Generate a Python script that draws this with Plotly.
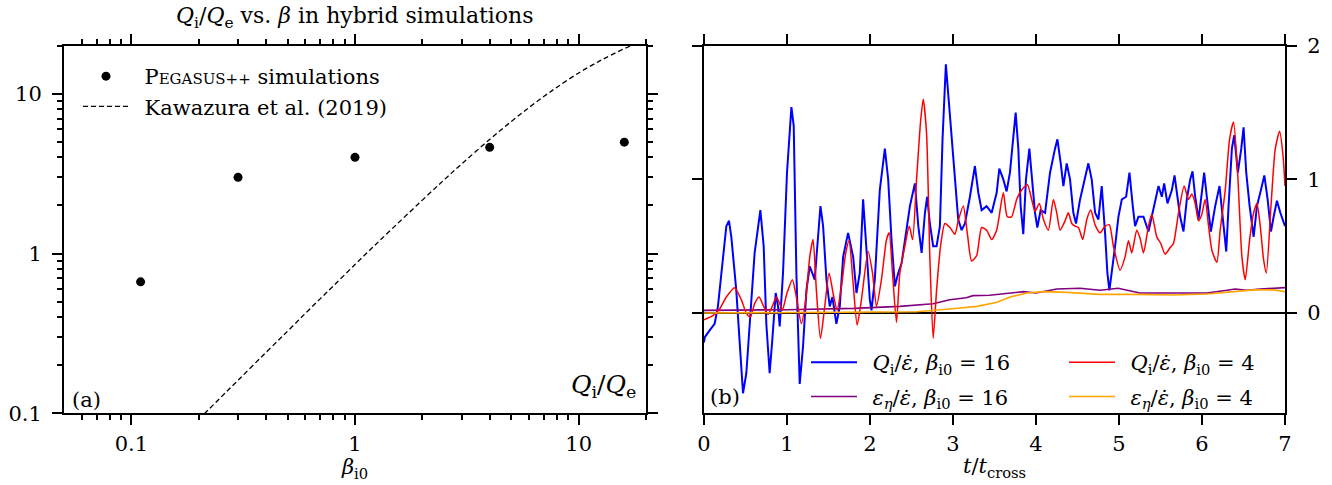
import math
import plotly.graph_objects as go

FONT = "DejaVu Serif"
FS = 21

# ---------------- panel (a) data ----------------
beta_sim = [0.11, 0.3, 1.0, 4.0, 16.0]
qratio_sim = [0.665, 3.0, 4.0, 4.62, 4.98]

beta_kaw = [0.2, 0.21, 0.25, 0.3, 0.4, 0.5, 0.6, 0.7, 0.8, 1.0, 1.2, 1.5, 2.0, 2.5,
            3.0, 4.0, 5.0, 6.0, 7.0, 8.0, 10.0, 12.0, 13.0, 15.0, 17.3, 20.0]
qratio_kaw = [0.0915, 0.098, 0.125, 0.161, 0.2405, 0.327, 0.422, 0.522, 0.627, 0.853,
              1.094, 1.475, 2.16, 2.89, 3.64, 5.18, 6.71, 8.21, 9.64, 11.0, 13.5,
              15.65, 16.6, 18.37, 20.1, 21.8]

xticks_a = [0.1, 1, 10]
xticktext_a = ["0.1", "1", "10"]
yticks_a = [0.1, 1, 10]
yticktext_a = ["0.1", "1", "10"]
xminor_a = [0.06, 0.07, 0.08, 0.09, 0.2, 0.3, 0.4, 0.5, 0.6, 0.7, 0.8, 0.9,
            2, 3, 4, 5, 6, 7, 8, 9, 20]
yminor_a = [0.2, 0.3, 0.4, 0.5, 0.6, 0.7, 0.8, 0.9, 2, 3, 4, 5, 6, 7, 8, 9, 20]

# ---------------- panel (b) data ----------------
t_blue = [0.0, 0.01, 0.068, 0.128, 0.168, 0.208, 0.269, 0.301, 0.329, 0.389, 0.429,
          0.470, 0.510, 0.550, 0.610, 0.679, 0.719, 0.751, 0.791, 0.823, 0.864,
          0.892, 0.912, 0.952, 1.000, 1.053, 1.081, 1.113, 1.153, 1.193, 1.234,
          1.274, 1.334, 1.403, 1.435, 1.475, 1.515, 1.547, 1.595, 1.636, 1.676,
          1.736, 1.797, 1.837, 1.877, 1.917, 1.957, 1.998, 2.018, 2.058, 2.118,
          2.179, 2.219, 2.259, 2.300, 2.340, 2.380, 2.420, 2.481, 2.541, 2.582,
          2.622, 2.662, 2.689, 2.721, 2.761, 2.802, 2.842, 2.874, 2.914, 2.955,
          2.995, 3.035, 3.063, 3.104, 3.144, 3.204, 3.264, 3.305, 3.345, 3.405,
          3.466, 3.526, 3.558, 3.606, 3.646, 3.686, 3.726, 3.755, 3.787, 3.815,
          3.847, 3.879, 3.920, 3.956, 3.988, 4.016, 4.056, 4.109, 4.169, 4.229,
          4.258, 4.298, 4.330, 4.370, 4.410, 4.450, 4.482, 4.531, 4.591, 4.631,
          4.671, 4.712, 4.752, 4.792, 4.832, 4.860, 4.884, 4.913, 4.953, 4.993,
          5.034, 5.086, 5.126, 5.166, 5.194, 5.234, 5.295, 5.355, 5.415, 5.476,
          5.516, 5.544, 5.584, 5.637, 5.669, 5.705, 5.737, 5.777, 5.817, 5.858,
          5.886, 5.918, 5.958, 5.998, 6.026, 6.058, 6.107, 6.159, 6.211, 6.252,
          6.292, 6.320, 6.360, 6.388, 6.432, 6.473, 6.501, 6.533, 6.574, 6.622,
          6.662, 6.710, 6.751, 6.791, 6.831, 6.863, 6.903, 6.944, 7.000]
q_blue = [-0.22, -0.18, -0.13, -0.08, 0.05, 0.30, 0.65, 0.69, 0.57, 0.17, -0.20,
          -0.60, -0.45, -0.08, 0.45, 0.77, 0.50, -0.08, -0.45, -0.20, 0.15,
          0.05, -0.10, 0.30, 1.05, 1.54, 1.40, 0.30, -0.53, -0.25, 0.17,
          0.35, 0.25, 0.80, 0.65, 0.25, 0.05, 0.12, -0.08, 0.05, 0.42,
          0.60, 0.42, 0.15, 0.30, 0.85, 0.50, 0.10, 0.02, 0.25, 0.92,
          1.23, 1.00, 0.55, 0.20, 0.30, 0.37, 0.55, 0.80, 0.97, 0.65,
          0.45, 0.75, 0.87, 0.67, 0.50, 0.50, 0.65, 1.30, 1.86, 1.55,
          1.23, 0.97, 0.70, 0.62, 0.67, 0.87, 1.10, 0.90, 0.77, 0.80,
          0.75, 0.90, 1.08, 1.00, 0.91, 1.05, 1.35, 1.50, 1.23, 0.80,
          0.59, 1.00, 1.23, 1.00, 0.75, 0.64, 0.77, 0.75, 1.05, 1.23,
          1.30, 1.12, 0.95, 1.12, 1.00, 0.75, 0.67, 0.85, 1.00, 1.12,
          1.00, 0.75, 0.70, 0.95, 0.60, 0.30, 0.17, 0.30, 0.50, 0.72,
          0.85, 0.87, 1.05, 0.80, 0.65, 0.72, 0.72, 0.61, 0.77, 0.95,
          0.87, 0.97, 0.82, 0.92, 1.03, 0.87, 0.72, 0.61, 0.85, 1.00,
          1.06, 0.87, 0.70, 0.90, 1.05, 0.87, 0.61, 0.80, 0.95, 0.70,
          0.46, 0.80, 1.23, 1.33, 1.05, 1.23, 1.39, 1.05, 0.80, 0.57,
          0.80, 0.92, 1.03, 0.85, 0.61, 0.72, 0.84, 0.75, 0.65]

t_red = [0.0, 0.108, 0.188, 0.269, 0.369, 0.449, 0.510, 0.558, 0.610, 0.663, 0.719,
         0.771, 0.823, 0.872, 0.912, 0.944, 1.000, 1.065, 1.113, 1.173, 1.226,
         1.274, 1.314, 1.354, 1.403, 1.455, 1.507, 1.555, 1.603, 1.656, 1.708,
         1.748, 1.797, 1.845, 1.897, 1.977, 2.030, 2.078, 2.138, 2.199, 2.231,
         2.271, 2.319, 2.360, 2.420, 2.473, 2.513, 2.561, 2.609, 2.641, 2.681,
         2.721, 2.761, 2.802, 2.850, 2.902, 2.963, 3.023, 3.063, 3.124, 3.172,
         3.224, 3.285, 3.345, 3.405, 3.466, 3.526, 3.606, 3.654, 3.706, 3.767,
         3.827, 3.896, 3.948, 3.988, 4.040, 4.090, 4.149, 4.209, 4.250, 4.290,
         4.350, 4.390, 4.431, 4.471, 4.511, 4.563, 4.612, 4.660, 4.712, 4.772,
         4.832, 4.884, 4.933, 5.013, 5.073, 5.114, 5.154, 5.214, 5.254, 5.295,
         5.355, 5.395, 5.455, 5.503, 5.556, 5.616, 5.656, 5.717, 5.785, 5.837,
         5.877, 5.918, 5.958, 5.998, 6.038, 6.079, 6.119, 6.179, 6.219, 6.280,
         6.332, 6.380, 6.429, 6.481, 6.521, 6.574, 6.622, 6.662, 6.702, 6.742,
         6.775, 6.831, 6.883, 6.935, 6.976, 7.000]
q_red = [-0.05, -0.02, 0.03, 0.12, 0.19, 0.10, 0.00, -0.03, 0.07, 0.12, 0.05,
         -0.01, 0.05, 0.12, 0.07, 0.02, 0.15, 0.25, 0.12, -0.08, 0.10,
         0.42, 0.55, 0.17, -0.19, 0.05, 0.30, 0.15, 0.02, 0.20, 0.45,
         0.54, 0.22, -0.09, 0.10, 0.46, 0.30, 0.05, 0.25, 0.55, 0.60,
         0.30, -0.07, 0.30, 0.50, 0.65, 0.55, 1.00, 1.43, 1.60, 1.35,
         0.42, -0.19, 0.17, 0.50, 0.67, 0.64, 0.59, 0.69, 0.80, 0.60,
         0.39, 0.43, 0.64, 0.62, 0.55, 0.62, 0.90, 0.72, 0.72, 0.85,
         0.92, 0.96, 0.85, 0.76, 0.82, 0.70, 0.62, 0.85, 0.75, 0.62,
         0.69, 0.75, 0.67, 0.65, 0.64, 0.55, 0.70, 0.77, 0.66, 0.60,
         0.65, 0.66, 0.50, 0.32, 0.42, 0.54, 0.45, 0.62, 0.56, 0.45,
         0.65, 0.74, 0.57, 0.52, 0.44, 0.49, 0.52, 0.75, 0.95, 0.85,
         0.89, 0.82, 0.69, 0.74, 0.85, 0.65, 0.47, 0.38, 0.62, 0.92,
         1.30, 1.43, 1.05, 0.42, 0.25, 0.55, 0.75, 0.82, 0.65, 0.40,
         0.30, 0.80, 1.23, 1.36, 1.18, 0.95]

t_purple = [0.0, 1.0, 1.8, 2.36, 2.76, 2.96, 3.16, 3.24, 3.44, 3.69, 3.85, 4.0,
            4.25, 4.53, 4.77, 4.99, 5.25, 5.5, 6.06, 6.3, 6.4, 6.54, 6.7, 7.0]
eps_purple = [0.02, 0.025, 0.035, 0.05, 0.07, 0.10, 0.115, 0.13, 0.133, 0.15, 0.16,
              0.15, 0.18, 0.185, 0.17, 0.185, 0.15, 0.15, 0.15, 0.17, 0.18, 0.17,
              0.18, 0.19]

t_orange = [0.0, 1.0, 2.0, 2.56, 2.96, 3.29, 3.53, 3.69, 3.89, 4.09, 4.37, 4.61,
            4.77, 5.17, 5.66, 6.06, 6.38, 6.62, 6.86, 7.0]
eps_orange = [0.0, 0.003, 0.005, 0.01, 0.03, 0.05, 0.08, 0.12, 0.15, 0.16, 0.155,
              0.143, 0.14, 0.14, 0.135, 0.143, 0.16, 0.173, 0.173, 0.16]

xticks_b = [0, 1, 2, 3, 4, 5, 6, 7]
yticks_b = [0, 1, 2]

W, H = 1332, 485
DOM_A = [64 / W, 646 / W]
DOM_B = [704 / W, 1285 / W]
DOM_Y = [1 - 413.3 / H, 1 - 45.7 / H]
SP = "\u2002"

fig = go.Figure()

# panel (a)
fig.add_trace(go.Scatter(
    x=beta_sim, y=qratio_sim, mode="markers", xaxis="x", yaxis="y",
    marker=dict(color="black", size=9),
    name=SP + 'P<span style="font-size:15px">EGASUS++</span> simulations',
    legend="legend", showlegend=True))
fig.add_trace(go.Scatter(
    x=beta_kaw, y=qratio_kaw, mode="lines", xaxis="x", yaxis="y",
    line=dict(color="black", width=1.3, dash="5px,3px", shape="spline"),
    name=SP + "Kawazura et al. (2019)", legend="legend", showlegend=True))

# panel (b)
fig.add_trace(go.Scatter(
    x=t_blue, y=q_blue, mode="lines", xaxis="x2", yaxis="y2",
    line=dict(color="#0000ff", width=2.0),
    name=SP + "<i>Q</i><sub>i</sub>/<i>ε̇</i>, <i>β</i><sub>i0</sub> = 16",
    legend="legend2", legendgroup="g1"))
fig.add_trace(go.Scatter(
    x=t_purple, y=eps_purple, mode="lines", xaxis="x2", yaxis="y2",
    line=dict(color="#800080", width=1.6),
    name=SP + "<i>ε</i><sub><i>η</i></sub>/<i>ε̇</i>, <i>β</i><sub>i0</sub> = 16",
    legend="legend2", legendgroup="g2"))
fig.add_trace(go.Scatter(
    x=t_red, y=q_red, mode="lines", xaxis="x2", yaxis="y2",
    line=dict(color="#ff0000", width=1.5, shape="spline", smoothing=0.6),
    name=SP + "<i>Q</i><sub>i</sub>/<i>ε̇</i>, <i>β</i><sub>i0</sub> = 4",
    legend="legend3", legendgroup="g3"))
fig.add_trace(go.Scatter(
    x=t_orange, y=eps_orange, mode="lines", xaxis="x2", yaxis="y2",
    line=dict(color="#ffa500", width=1.6),
    name=SP + "<i>ε</i><sub><i>η</i></sub>/<i>ε̇</i>, <i>β</i><sub>i0</sub> = 4",
    legend="legend3", legendgroup="g4"))

tickfont = dict(family=FONT, size=FS, color="black")
common = dict(showline=True, linewidth=2, linecolor="black", mirror="allticks",
              ticks="outside", ticklen=10, tickwidth=2, tickcolor="black",
              showgrid=False, tickfont=tickfont, automargin=False)
minor_common = dict(ticks="outside", ticklen=5, tickwidth=1.5, tickcolor="black",
                    showgrid=False)

leg_common = dict(bgcolor="rgba(0,0,0,0)", borderwidth=0,
                  font=dict(family=FONT, size=FS, color="black"),
                  xanchor="left", yanchor="top", orientation="v")

fig.update_layout(
    width=W, height=H, margin=dict(l=0, r=0, t=0, b=0, autoexpand=False),
    paper_bgcolor="white", plot_bgcolor="white",
    font=dict(family=FONT, size=FS, color="black"),
    xaxis=dict(type="log", domain=DOM_A, anchor="y",
               range=[math.log10(0.05), math.log10(20)],
               tickmode="array", tickvals=xticks_a, ticktext=xticktext_a,
               minor=dict(tickmode="array", tickvals=xminor_a, **minor_common),
               zeroline=False,
               title=dict(text="<i>β</i><sub>i0</sub>", font=dict(family=FONT, size=FS),
                          standoff=4),
               **common),
    yaxis=dict(type="log", domain=DOM_Y, anchor="x",
               range=[math.log10(0.1), math.log10(20)],
               tickmode="array", tickvals=yticks_a, ticktext=yticktext_a,
               minor=dict(tickmode="array", tickvals=yminor_a, **minor_common),
               zeroline=False, ticklabelstandoff=6, **common),
    xaxis2=dict(domain=DOM_B, anchor="y2", range=[0, 7],
                tickmode="array", tickvals=xticks_b, zeroline=False,
                title=dict(text="<i>t</i>/<i>t</i><sub>cross</sub>",
                           font=dict(family=FONT, size=FS), standoff=4),
                **common),
    yaxis2=dict(domain=DOM_Y, anchor="x2", range=[-0.75, 2], side="right",
                tickmode="array", tickvals=yticks_b,
                zeroline=True, zerolinecolor="black", zerolinewidth=1.5,
                ticklabelstandoff=6, **common),
    legend=dict(x=78 / W, y=1 - 56 / H, itemwidth=46, **leg_common),
    legend2=dict(x=806 / W, y=1 - 342 / H, itemwidth=46, tracegroupgap=4, **leg_common),
    legend3=dict(x=1064 / W, y=1 - 342 / H, itemwidth=46, tracegroupgap=4, **leg_common),
    showlegend=True,
    annotations=[
        dict(text="<i>Q</i><sub>i</sub>/<i>Q</i><sub>e</sub> vs. <i>β</i> in hybrid simulations",
             xref="paper", yref="paper", x=355 / W, y=1 - 18 / H,
             xanchor="center", yanchor="middle", showarrow=False,
             font=dict(family=FONT, size=FS + 1)),
        dict(text="(a)", xref="x domain", yref="y domain", x=0.038, y=0.036,
             xanchor="center", yanchor="middle", showarrow=False,
             font=dict(family=FONT, size=FS)),
        dict(text="<i>Q</i><sub>i</sub>/<i>Q</i><sub>e</sub>", xref="x domain",
             yref="y domain", x=0.987, y=0.075, xanchor="right", yanchor="middle",
             showarrow=False, font=dict(family=FONT, size=FS + 4)),
        dict(text="(b)", xref="x2 domain", yref="y2 domain", x=0.036, y=0.044,
             xanchor="center", yanchor="middle", showarrow=False,
             font=dict(family=FONT, size=FS)),
    ],
)

fig.write_html("out.html")
